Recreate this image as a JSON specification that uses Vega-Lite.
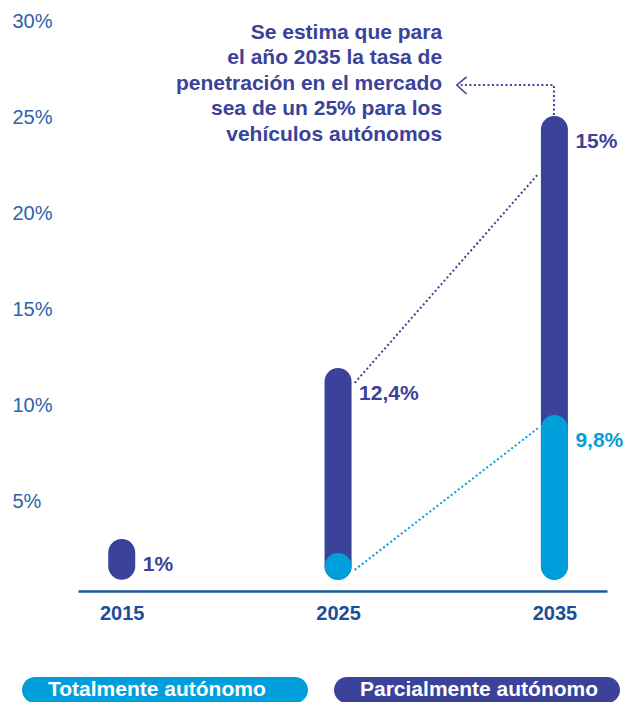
{
  "$schema": "https://vega.github.io/schema/vega-lite/v6.json",
  "width": 529,
  "height": 570,
  "autosize": "none",
  "padding": {"left": 78, "top": 21, "right": 31, "bottom": 111},
  "background": "white",
  "config": {"view": {"stroke": null}, "font": "Liberation Sans"},
  "datasets": {
    "barras": [
      {"anio": 2015, "serie": "Parcialmente autónomo", "base": 0.92, "tope": 3.05, "etiqueta": "1%"},
      {"anio": 2025, "serie": "Parcialmente autónomo", "base": 0.92, "tope": 11.95, "etiqueta": "12,4%"},
      {"anio": 2035, "serie": "Parcialmente autónomo", "base": 0.92, "tope": 25.06, "etiqueta": "15%"},
      {"anio": 2025, "serie": "Totalmente autónomo", "base": 0.92, "tope": 2.32, "etiqueta": ""},
      {"anio": 2035, "serie": "Totalmente autónomo", "base": 0.92, "tope": 9.5, "etiqueta": "9,8%"}
    ],
    "conectores": [
      {"linea": "parcial", "orden": 1, "anio": 2025.77, "valor": 11.17},
      {"linea": "parcial", "orden": 2, "anio": 2034.25, "valor": 22.04},
      {"linea": "total", "orden": 1, "anio": 2025.77, "valor": 1.44},
      {"linea": "total", "orden": 2, "anio": 2034.25, "valor": 8.82},
      {"linea": "flecha", "orden": 1, "anio": 2034.98, "valor": 25.11},
      {"linea": "flecha", "orden": 2, "anio": 2034.98, "valor": 26.67},
      {"linea": "flecha", "orden": 3, "anio": 2030.67, "valor": 26.67}
    ],
    "punta": [
      {"orden": 1, "anio": 2030.94, "valor": 27.09},
      {"orden": 2, "anio": 2030.49, "valor": 26.67},
      {"orden": 3, "anio": 2030.94, "valor": 26.2}
    ],
    "nota": [
      {"anio": 2029.81, "valor": 29.38, "texto": "Se estima que para\nel año 2035 la tasa de\npenetración en el mercado\nsea de un 25% para los\nvehículos autónomos"}
    ]
  },
  "layer": [
    {
      "data": {"name": "conectores"},
      "mark": {"type": "line", "strokeWidth": 2, "strokeDash": [2, 2.5], "clip": false},
      "encoding": {
        "x": {"field": "anio", "type": "quantitative", "scale": {"domain": [2013.21, 2037.2], "nice": false, "zero": false}},
        "y": {"field": "valor", "type": "quantitative", "scale": {"domain": [0.34, 30], "nice": false, "zero": false}},
        "detail": {"field": "linea"},
        "order": {"field": "orden"},
        "color": {"condition": {"test": "datum.linea === 'total'", "value": "#009fdc"}, "value": "#3a4299"}
      }
    },
    {
      "data": {"name": "punta"},
      "mark": {"type": "line", "strokeWidth": 1.6, "color": "#3a4299", "clip": false},
      "encoding": {
        "x": {"field": "anio", "type": "quantitative"},
        "y": {"field": "valor", "type": "quantitative"},
        "order": {"field": "orden"}
      }
    },
    {
      "data": {"name": "barras"},
      "mark": {"type": "bar", "size": 27, "cornerRadius": 13.5},
      "encoding": {
        "x": {
          "field": "anio", "type": "quantitative",
          "axis": {
            "values": [2015, 2025, 2035], "format": "d", "title": null, "grid": false,
            "ticks": false, "tickSize": 0, "labelPadding": 12,
            "labelFontSize": 20, "labelFontWeight": "bold", "labelColor": "#1b4f94",
            "domainColor": "#1d5aa0", "domainWidth": 2.5, "labelFont": "Liberation Sans"
          }
        },
        "y": {
          "field": "tope", "type": "quantitative",
          "axis": {
            "values": [5, 10, 15, 20, 25, 30], "labelExpr": "datum.value + '%'", "title": null,
            "grid": false, "domain": false, "ticks": false, "tickSize": 0,
            "labelAlign": "left", "labelBaseline": "middle", "labelPadding": 66,
            "labelFontSize": 20, "labelColor": "#2c64a8", "labelFont": "Liberation Sans"
          }
        },
        "y2": {"field": "base"},
        "color": {
          "field": "serie", "type": "nominal",
          "scale": {"domain": ["Totalmente autónomo", "Parcialmente autónomo"], "range": ["#009fdc", "#3a4299"]},
          "legend": {
            "orient": "none", "legendX": -56, "legendY": 526, "direction": "horizontal", "title": null,
            "symbolType": "M-0.909,-0.0909 L0.909,-0.0909 A0.0909,0.0909 0 0 1 0.909,0.0909 L-0.909,0.0909 A0.0909,0.0909 0 0 1 -0.909,-0.0909 Z",
            "symbolSize": 81796, "symbolStrokeWidth": 0, "symbolOpacity": 1,
            "labelOffset": -260, "labelColor": "white", "labelFont": "Liberation Sans",
            "labelFontSize": 21, "labelFontWeight": "bold", "labelLimit": 0, "labelBaseline": "middle",
            "columnPadding": 26, "padding": 0
          }
        }
      }
    },
    {
      "data": {"name": "barras"},
      "transform": [{"filter": "datum.etiqueta !== ''"}],
      "mark": {"type": "text", "align": "left", "baseline": "middle", "dx": 21, "dy": 26, "fontSize": 21, "fontWeight": "bold", "font": "Liberation Sans"},
      "encoding": {
        "x": {"field": "anio", "type": "quantitative"},
        "y": {"field": "tope", "type": "quantitative"},
        "text": {"field": "etiqueta"},
        "color": {"condition": {"test": "datum.serie === 'Totalmente autónomo'", "value": "#009fdc"}, "value": "#3a4299"}
      }
    },
    {
      "data": {"name": "nota"},
      "mark": {"type": "text", "align": "right", "baseline": "middle", "lineBreak": "\n", "lineHeight": 25.5, "fontSize": 21, "fontWeight": "bold", "font": "Liberation Sans", "color": "#3a4299"},
      "encoding": {
        "x": {"field": "anio", "type": "quantitative"},
        "y": {"field": "valor", "type": "quantitative"},
        "text": {"field": "texto"}
      }
    }
  ]
}
